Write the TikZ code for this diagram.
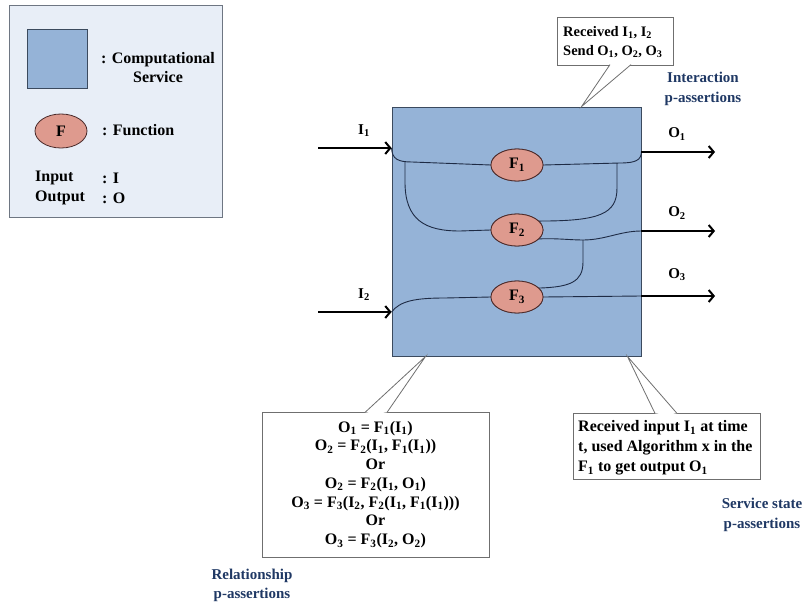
\documentclass[tikz,border=0pt]{standalone}
\usepackage{fontspec}
\setmainfont{Liberation Serif}
\usetikzlibrary{shapes.geometric,arrows.meta}
\definecolor{svcblue}{HTML}{95B3D7}
\definecolor{svcedge}{HTML}{3B4A5E}
\definecolor{fnfill}{HTML}{DE9A8E}
\definecolor{fnedge}{HTML}{4A2A2A}
\definecolor{legendbg}{HTML}{E8EEF7}
\definecolor{legendedge}{HTML}{6E7682}
\definecolor{wire}{HTML}{1E2B45}
\definecolor{labblue}{HTML}{1F3864}
\definecolor{calloutedge}{HTML}{6F6F6F}
\newcommand\sbs[1]{\textsubscript{#1}}
\newcommand\fs[2]{\fontsize{#1}{#2}\selectfont\bfseries}

\begin{document}
\begin{tikzpicture}[x=1pt,y=-1pt,
  txt/.style={inner sep=0pt, font=\fs{16}{19}},
  bluetxt/.style={inner sep=0pt, align=center, text=labblue, font=\fs{15}{19.5}},
  svcbox/.style={rectangle, draw=svcedge, fill=svcblue, line width=0.9pt, inner sep=0pt},
  func/.style={ellipse, draw=fnedge, fill=fnfill, line width=0.8pt,
    minimum width=52pt, minimum height=32pt, inner sep=0pt, font=\fs{16}{19}},
  wireline/.style={draw=wire, line width=0.9pt},
  bigarrow/.style={line width=2pt, -{Straight Barb[length=5pt,width=12pt]}},
  callout/.style={rectangle, draw=calloutedge, fill=white, line width=0.8pt, inner sep=0pt},
  pointer/.style={draw=calloutedge, line width=0.8pt, fill=white}
]
\useasboundingbox (0,0) rectangle (807,605);

% ---------- legend ----------
\node[rectangle, draw=legendedge, fill=legendbg, line width=0.9pt,
      minimum width=213pt, minimum height=212pt, inner sep=0pt] (legend) at (115.5,111.5) {};
\node[svcbox, minimum width=60pt, minimum height=59pt] (legsvc) at (57,58.5) {};
\node[txt, align=center] (legsvctxt) at (158,68) {: Computational\\Service};
\node[func, minimum height=34pt] (legfn) at (61,131) {F};
\node[txt, anchor=west] (legfntxt) at (102,130) {: Function};
\node[txt, anchor=west] (legin) at (35,178) {Input};
\node[txt, anchor=west] (leginv) at (102,178) {: I};
\node[txt, anchor=west] (legout) at (35,198) {Output};
\node[txt, anchor=west] (legoutv) at (102,198) {: O};

% ---------- computational service ----------
\node[svcbox, minimum width=249pt, minimum height=249pt] (svc) at (516.5,231.5) {};

% junction points of the internal wiring
\coordinate (j1) at (405,162);
\coordinate (j2) at (617,163);
\coordinate (j3) at (583,240);

\node[func] (F1) at (517,165) {F\sbs{1}};
\node[func] (F2) at (517,230) {F\sbs{2}};
\node[func] (F3) at (517,297) {F\sbs{3}};

% input and output points
\coordinate (in1) at (318,148);
\coordinate (in2) at (318,312);
\coordinate (out1) at (715,152);
\coordinate (out2) at (715,231);
\coordinate (out3) at (715,296);

% wiring inside the service
\path[wireline] (in1 -| svc.west) .. controls (392,159) and (398,162) .. (412,162) -- (F1.west);
\path[wireline] (F1.east) -- (620,163) .. controls (636,163) and (641,160) .. (out1 -| svc.east);
\path[wireline] (j1) -- (405,182) .. controls (405,220) and (425,231) .. (460,231) -- (F2.west);
\path[wireline] (j2) -- (617,188) .. controls (617,214) and (600,221) .. (F2.22);
\path[wireline] (F2.-22) .. controls (555,238) and (570,240) .. (j3)
   .. controls (605,240) and (620,231) .. (out2 -| svc.east);
\path[wireline] (j3) -- (583,262) .. controls (583,282) and (570,287) .. (F3.22);
\path[wireline] (in2 -| svc.west) .. controls (400,301) and (415,298) .. (445,298) -- (F3.west);
\path[wireline] (F3.east) -- (out3 -| svc.east);

% redraw the functions above the wires
\node[func] at (F1) {F\sbs{1}};
\node[func] at (F2) {F\sbs{2}};
\node[func] at (F3) {F\sbs{3}};

% inputs and outputs
\draw[bigarrow] (in1) -- (in1 -| svc.west);
\draw[bigarrow] (in2) -- (in2 -| svc.west);
\draw[bigarrow] (out1 -| svc.east) -- (out1);
\draw[bigarrow] (out2 -| svc.east) -- (out2);
\draw[bigarrow] (out3 -| svc.east) -- (out3);
\node[txt, font=\fs{15}{18}] (li1) at (364,131) {I\sbs{1}};
\node[txt, font=\fs{15}{18}] (li2) at (364,295) {I\sbs{2}};
\node[txt, font=\fs{15}{18}] (lo1) at (677,134) {O\sbs{1}};
\node[txt, font=\fs{15}{18}] (lo2) at (677,213) {O\sbs{2}};
\node[txt, font=\fs{15}{18}] (lo3) at (677,275) {O\sbs{3}};

% ---------- interaction callout ----------
\coordinate (tipA) at ([xshift=190pt]svc.north west);
\node[callout, minimum width=116pt, minimum height=48pt] (ca) at (615,41) {};
\node[anchor=west, inner sep=0pt, align=left, font=\fs{14.5}{19}] (catxt) at (563,42)
  {Received I\sbs{1}, I\sbs{2}\\Send O\sbs{1}, O\sbs{2}, O\sbs{3}};
\path[pointer] (610,64.6) -- (tipA) -- (631,64.6);
\fill[white] (610.6,64) -- (630.4,64) -- (620,66.5) -- cycle;
\node[bluetxt] (lint) at (703,89) {Interaction\\p-assertions};

% ---------- relationship callout ----------
\coordinate (tipB) at ([xshift=34pt]svc.south west);
\node[callout, minimum width=227pt, minimum height=145pt, align=center,
      font=\fs{16}{18.7}] (cb) at (375.5,484.5)
  {O\sbs{1} = F\sbs{1}(I\sbs{1})\\
   O\sbs{2} = F\sbs{2}(I\sbs{1}, F\sbs{1}(I\sbs{1}))\\
   Or\\
   O\sbs{2} = F\sbs{2}(I\sbs{1}, O\sbs{1})\\
   O\sbs{3} = F\sbs{3}(I\sbs{2}, F\sbs{2}(I\sbs{1}, F\sbs{1}(I\sbs{1})))\\
   Or\\
   O\sbs{3} = F\sbs{3}(I\sbs{2}, O\sbs{2})};
\path[pointer] (365,412.4) -- (tipB) -- (387,412.4);
\fill[white] (365.8,413) -- (386.2,413) -- (376,410) -- cycle;
\node[bluetxt] (lrel) at (252,585.5) {Relationship\\p-assertions};

% ---------- service state callout ----------
\coordinate (tipC) at ([xshift=-14pt]svc.south east);
\node[callout, minimum width=187pt, minimum height=66pt] (cc) at (666.5,446) {};
\node[anchor=west, inner sep=0pt, align=left, font=\fs{16}{20}] (cctxt) at (578,448)
  {Received input I\sbs{1} at time\\t, used Algorithm x in the\\F\sbs{1} to get output O\sbs{1}};
\path[pointer] (655,413.4) -- (tipC) -- (677,413.4);
\fill[white] (655.8,414) -- (676.2,414) -- (666,411) -- cycle;
\node[bluetxt] (lsvc) at (762,515) {Service state\\p-assertions};
\end{tikzpicture}
\end{document}
